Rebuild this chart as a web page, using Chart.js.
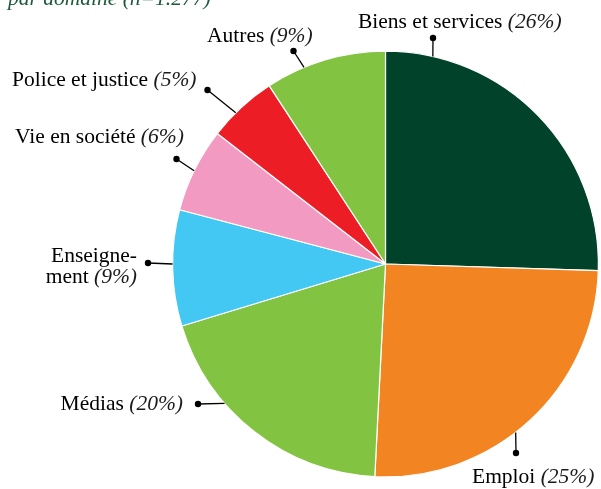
<!DOCTYPE html>
<html>
<head>
<meta charset="utf-8">
<script src="https://cdn.jsdelivr.net/npm/chart.js@4/dist/chart.umd.min.js"></script>
<style>
html,body{margin:0;padding:0;background:#fff;}
#wrap{width:601px;height:489px;position:relative;}
</style>
</head>
<body>
<div id="wrap"><canvas id="c" width="601" height="489"></canvas></div>
<script>
const categories = ["Biens et services", "Emploi", "Médias", "Enseignement", "Vie en société", "Police et justice", "Autres"];
const shares = [25.5, 25.3, 19.5, 8.8, 6.4, 5.3, 9.2];
const shownPct = ["(26%)", "(25%)", "(20%)", "(9%)", "(6%)", "(5%)", "(9%)"];
const colors = ["#00422a", "#f28522", "#82c341", "#43c8f4", "#f39ac2", "#ec1d25", "#82c341"];
const titleText = "par domaine (n=1.277)";

// label placement: arc anchor angle (deg clockwise from top), dot offset from center, text lines
const callouts = [
  {angle: 12.85, dot: [47.5, -226], text: [{t: "Biens et services ", pct: true}], x: 358, y: 28, align: "left"},
  {angle: 142.3, dot: [130.5, 189], text: [{t: "Emploi ", pct: true}], x: 472, y: 483, align: "left"},
  {angle: 229.1, dot: [-187.5, 140], text: [{t: "Médias ", pct: true}], x: 183, y: 410, align: "right"},
  {angle: 270, dot: [-237.5, -1], text: [{t: "Enseigne-", pct: false}, {t: "ment ", pct: true}], x: 137, y: 262, align: "right"},
  {angle: 296, dot: [-209, -105], text: [{t: "Vie en société ", pct: true}], x: 15, y: 143, align: "left"},
  {angle: 315.3, dot: [-178, -174], text: [{t: "Police et justice ", pct: true}], x: 12, y: 86, align: "left"},
  {angle: 337.5, dot: [-92, -213], text: [{t: "Autres ", pct: true}], x: 207, y: 42, align: "left"}
];

const FONT = '"Liberation Serif", "DejaVu Serif", serif';
const FS = 21.5;

const calloutPlugin = {
  id: 'callouts',
  afterDatasetsDraw(chart) {
    const ctx = chart.ctx;
    const arc = chart.getDatasetMeta(0).data[0];
    const cx = arc.x, cy = arc.y, r = arc.outerRadius;
    ctx.save();
    // title (partially cut at top)
    ctx.fillStyle = "#1d5a3b";
    ctx.font = "italic " + FS + "px " + FONT;
    ctx.textAlign = "left";
    ctx.textBaseline = "alphabetic";
    ctx.fillText(titleText, 8, 5);

    callouts.forEach((c, i) => {
      const a = c.angle * Math.PI / 180;
      const ax = cx + r * Math.sin(a), ay = cy - r * Math.cos(a);
      const dx = cx + c.dot[0], dy = cy + c.dot[1];
      ctx.strokeStyle = "#000";
      ctx.lineWidth = 1.3;
      ctx.beginPath();
      ctx.moveTo(ax, ay);
      ctx.lineTo(dx, dy);
      ctx.stroke();
      ctx.fillStyle = "#000";
      ctx.beginPath();
      ctx.arc(dx, dy, 3.2, 0, Math.PI * 2);
      ctx.fill();
      // text
      c.text.forEach((ln, j) => {
        const y = c.y + j * 21;
        const normalFont = FS + "px " + FONT;
        const italFont = "italic " + FS + "px " + FONT;
        ctx.font = normalFont;
        const w1 = ctx.measureText(ln.t).width;
        let w2 = 0;
        if (ln.pct) { ctx.font = italFont; w2 = ctx.measureText(shownPct[i]).width; }
        const total = w1 + w2;
        let x0 = c.align === "right" ? c.x - total : c.x;
        ctx.textAlign = "left";
        ctx.fillStyle = "#000";
        ctx.font = normalFont;
        ctx.fillText(ln.t, x0, y);
        if (ln.pct) {
          ctx.font = italFont;
          ctx.fillStyle = "#1a1a1a";
          ctx.fillText(shownPct[i], x0 + w1, y);
        }
      });
    });
    ctx.restore();
  }
};

new Chart(document.getElementById('c'), {
  type: 'pie',
  data: {
    labels: categories,
    datasets: [{
      data: shares,
      backgroundColor: colors,
      borderColor: "#ffffff",
      borderWidth: 1.2
    }]
  },
  options: {
    responsive: false,
    animation: false,
    layout: {padding: {left: 172, right: 2, top: 50.5, bottom: 11.5}},
    plugins: {legend: {display: false}, tooltip: {enabled: false}, title: {display: false}}
  },
  plugins: [calloutPlugin]
});
</script>
</body>
</html>
